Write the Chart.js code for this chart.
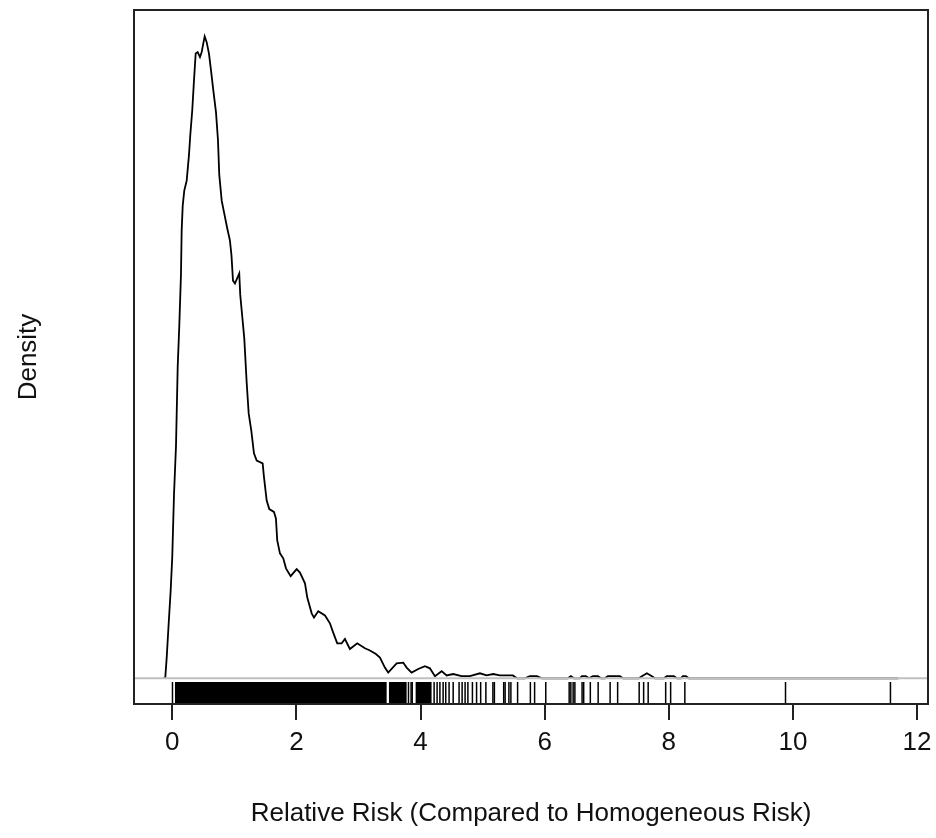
<!DOCTYPE html>
<html lang="en">
  <head>
    <meta charset="UTF-8" />
    <title>Relative Risk Density</title>
    <script src="https://cdn.jsdelivr.net/npm/chart.js@4.4.1/dist/chart.umd.min.js"></script>
    <style>
      body {
        margin: 0;
        background-color: #fff;
      }
    </style>
  </head>
  <body>
    <canvas id="densityChart" width="936" height="838"></canvas>
    <script>
      // density curve
      const densityX = [
        -0.14, -0.113, -0.09, -0.058, -0.026, 0.0, 0.027, 0.06, 0.087, 0.113,
        0.14, 0.151, 0.168, 0.193, 0.232, 0.269, 0.29, 0.322, 0.35, 0.377,
        0.409, 0.446, 0.474, 0.499, 0.522, 0.554, 0.591, 0.623, 0.66, 0.704,
        0.736, 0.757, 0.796, 0.833, 0.886, 0.929, 0.954, 0.978, 1.01, 1.079,
        1.095, 1.128, 1.16, 1.198, 1.231, 1.273, 1.316, 1.36, 1.456, 1.477,
        1.521, 1.563, 1.638, 1.67, 1.691, 1.735, 1.788, 1.832, 1.907, 2.004,
        2.057, 2.138, 2.175, 2.246, 2.283, 2.352, 2.46, 2.54, 2.593, 2.658,
        2.729, 2.782, 2.862, 2.98, 3.104, 3.185, 3.281, 3.346, 3.426, 3.479,
        3.615, 3.721, 3.776, 3.856, 3.963, 4.071, 4.151, 4.232, 4.34, 4.42,
        4.526, 4.662, 4.795, 4.957, 5.064, 5.171, 5.279, 5.488, 5.553, 5.681,
        5.762, 5.875, 5.955, 6.374, 6.423, 6.471, 6.568, 6.6, 6.665, 6.713,
        6.778, 6.858, 6.907, 6.971, 7.019, 7.212, 7.261, 7.518, 7.567, 7.647,
        7.728, 7.776, 7.921, 7.969, 8.082, 8.13, 8.194, 8.227, 8.275, 8.323,
        11.7
      ]
      const densityY = [
        0, 0.001, 0.029, 0.077, 0.123, 0.171, 0.256, 0.326, 0.436, 0.494,
        0.566, 0.627, 0.662, 0.683, 0.697, 0.733, 0.761, 0.796, 0.838, 0.875,
        0.877, 0.87, 0.877, 0.889, 0.899, 0.891, 0.875, 0.852, 0.824, 0.793,
        0.754, 0.705, 0.669, 0.653, 0.63, 0.613, 0.592, 0.557, 0.553, 0.567,
        0.537, 0.506, 0.476, 0.415, 0.371, 0.347, 0.315, 0.305, 0.301, 0.282,
        0.249, 0.237, 0.233, 0.224, 0.193, 0.175, 0.168, 0.154, 0.143, 0.153,
        0.148, 0.133, 0.113, 0.091, 0.085, 0.094, 0.088, 0.077, 0.064, 0.049,
        0.049, 0.055, 0.041, 0.049, 0.042, 0.039, 0.034, 0.029, 0.015, 0.008,
        0.021, 0.022, 0.015, 0.008, 0.013, 0.017, 0.014, 0.003, 0.01, 0.004,
        0.006, 0.003, 0.003, 0.007, 0.004, 0.006, 0.004, 0.004, 0, 0,
        0.003, 0.003, 0, 0, 0.003, 0, 0, 0.003, 0.003, 0,
        0.003, 0.003, 0, 0, 0.003, 0.003, 0, 0, 0.003, 0.007,
        0.003, 0, 0, 0.003, 0.003, 0, 0, 0.003, 0.003, 0,
        0
      ]

      // rug: solid black stretches and single observations
      const rugBands = [
        [0.043, 3.454],
        [3.491, 3.776],
        [3.921, 4.178]
      ]
      const rugValues = [
        0.003, 3.806, 3.848, 3.866, 4.219, 4.267, 4.312, 4.364, 4.406, 4.46,
        4.526, 4.621, 4.67, 4.718, 4.763, 4.836, 4.903, 4.969, 5.053, 5.166,
        5.19, 5.34, 5.363, 5.424, 5.456, 5.564, 5.77, 5.838, 6.018, 6.395,
        6.422, 6.459, 6.487, 6.603, 6.629, 6.736, 6.862, 7.055, 7.176, 7.523,
        7.595, 7.668, 7.95, 8.03, 8.259, 9.881, 11.572
      ]

      const xTicks = [0, 2, 4, 6, 8, 10, 12]
      const xMin = -0.617
      const xMax = 12.177
      const yMin = -0.036
      const yMax = 0.936

      const fontFamily = '"Liberation Sans", Arial, sans-serif'
      const textColor = '#111'

      const boxPlugin = {
        id: 'box',
        afterDatasetsDraw(chart) {
          const { ctx, chartArea, scales } = chart
          const x = scales.x
          const y0 = scales.y.getPixelForValue(0)

          ctx.save()
          // zero line, on top of the curve like R does
          ctx.strokeStyle = '#c0c0c0'
          ctx.lineWidth = 2
          ctx.beginPath()
          ctx.moveTo(chartArea.left, y0)
          ctx.lineTo(chartArea.right, y0)
          ctx.stroke()

          // rug
          const rugTop = chartArea.bottom - 22
          ctx.fillStyle = '#000'
          rugBands.forEach(b => {
            const p1 = x.getPixelForValue(b[0])
            const p2 = x.getPixelForValue(b[1])
            ctx.fillRect(p1, rugTop, p2 - p1, chartArea.bottom - rugTop)
          })
          ctx.strokeStyle = '#000'
          ctx.lineWidth = 1.5
          rugValues.forEach(v => {
            const px = x.getPixelForValue(v)
            ctx.beginPath()
            ctx.moveTo(px, rugTop)
            ctx.lineTo(px, chartArea.bottom)
            ctx.stroke()
          })

          // frame
          ctx.strokeStyle = '#222'
          ctx.lineWidth = 2
          ctx.strokeRect(
            chartArea.left,
            chartArea.top,
            chartArea.right - chartArea.left,
            chartArea.bottom - chartArea.top
          )
          ctx.restore()
        }
      }

      const ctx = document.getElementById('densityChart').getContext('2d')
      new Chart(ctx, {
        type: 'scatter',
        data: {
          datasets: [
            {
              data: densityX.map((v, i) => ({ x: v, y: densityY[i] })),
              showLine: true,
              borderColor: '#000',
              borderWidth: 1.8,
              pointRadius: 0,
              tension: 0
            }
          ]
        },
        options: {
          responsive: false,
          animation: false,
          layout: { padding: { top: 10, right: 8, left: 0, bottom: 0 } },
          plugins: {
            legend: { display: false },
            tooltip: { enabled: false }
          },
          scales: {
            x: {
              type: 'linear',
              min: xMin,
              max: xMax,
              afterBuildTicks: scale => {
                scale.ticks = xTicks.map(v => ({ value: v }))
              },
              // the "12" label may hang past the box, like in R
              afterFit: scale => {
                scale.paddingRight = 0
              },
              grid: {
                drawOnChartArea: false,
                drawTicks: true,
                tickLength: 16,
                color: '#222',
                lineWidth: 2
              },
              border: { display: false },
              ticks: {
                autoSkip: false,
                maxRotation: 0,
                padding: 7,
                color: textColor,
                font: { family: fontFamily, size: 26 }
              },
              title: {
                display: true,
                text: 'Relative Risk (Compared to Homogeneous Risk)',
                color: textColor,
                font: { family: fontFamily, size: 26 },
                padding: { top: 33.2, bottom: 8.4 }
              }
            },
            y: {
              type: 'linear',
              min: yMin,
              max: yMax,
              grid: { display: false, drawTicks: false },
              border: { display: false },
              ticks: { display: false },
              title: {
                display: true,
                text: 'Density',
                color: textColor,
                font: { family: fontFamily, size: 26 },
                padding: { top: 13.4, bottom: 89.4 }
              }
            }
          }
        },
        plugins: [boxPlugin]
      })
    </script>
  </body>
</html>
